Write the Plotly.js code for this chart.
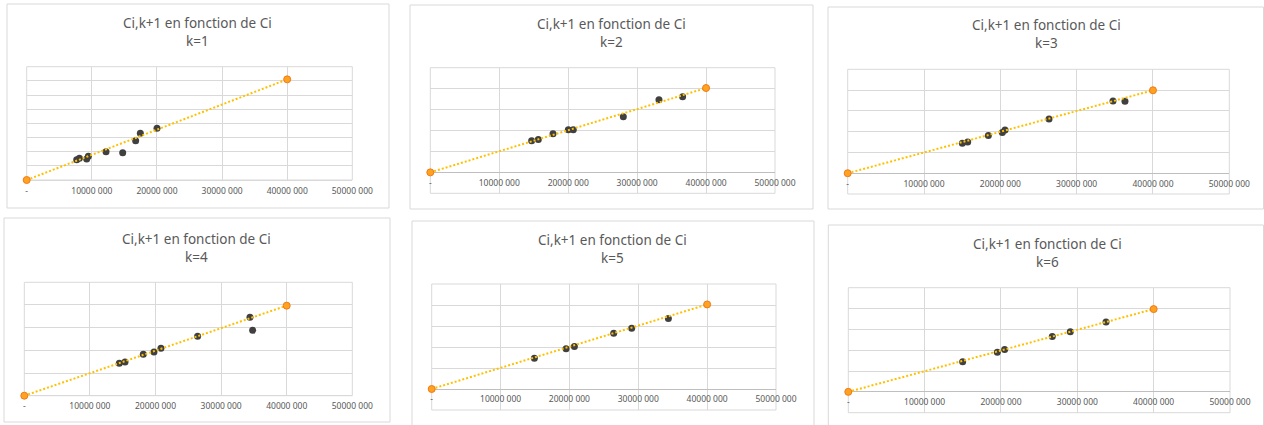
<!DOCTYPE html>
<html>
<head>
<meta charset="utf-8">
<script src="https://cdn.plot.ly/plotly-3.0.1.min.js"></script>
<style>html,body{margin:0;padding:0;background:#fff;}#chart{width:1264px;height:425px;}</style>
</head>
<body>
<div id="chart"></div>
<script>
// ---- data ----
const xTickVals = [0, 10000000, 20000000, 30000000, 40000000, 50000000];
const xTickText = ['-', '10000 000', '20000 000', '30000 000', '40000 000', '50000 000'];
const chartTitle = 'Ci,k+1 en fonction de Ci';
const kLabels = ['k=1', 'k=2', 'k=3', 'k=4', 'k=5', 'k=6'];

const ci_k1    = [7680000, 8090000, 9210000, 9470000, 12180000, 14740000, 16730000, 17450000, 20010000];
const cnext_k1 = [7180000, 7650000, 7410000, 8350000, 10000000, 9650000, 13880000, 16470000, 18240000];
const ci_k2    = [14700000, 15670000, 17800000, 20020000, 20740000, 28000000, 33170000, 36600000];
const cnext_k2 = [15130000, 15760000, 18470000, 20380000, 20380000, 26590000, 34710000, 36150000];
const ci_k3    = [15020000, 15720000, 18430000, 20260000, 20610000, 26380000, 34760000, 36330000];
const cnext_k3 = [14420000, 15060000, 18110000, 19550000, 20830000, 26120000, 34780000, 34620000];
const ci_k4    = [14480000, 15350000, 18140000, 19770000, 20830000, 26420000, 34400000, 34810000];
const cnext_k4 = [14260000, 14850000, 18240000, 19260000, 20880000, 26180000, 34560000, 28820000];
const ci_k5    = [14910000, 19510000, 20720000, 26430000, 29040000, 34370000];
const cnext_k5 = [14700000, 19170000, 20290000, 26520000, 28910000, 33550000];
const ci_k6    = [14980000, 19520000, 20480000, 26720000, 29080000, 33760000];
const cnext_k6 = [14420000, 19070000, 20350000, 26600000, 28850000, 33490000];

const fitX = [0, 40000000];
const fitY_k1 = [0, 35530000];
const fitY_k2 = [0, 40290000];
const fitY_k3 = [0, 39900000];
const fitY_k4 = [0, 39700000];
const fitY_k5 = [0, 40260000];
const fitY_k6 = [0, 39740000];

const series = [
  {x: ci_k1, y: cnext_k1, fy: fitY_k1},
  {x: ci_k2, y: cnext_k2, fy: fitY_k2},
  {x: ci_k3, y: cnext_k3, fy: fitY_k3},
  {x: ci_k4, y: cnext_k4, fy: fitY_k4},
  {x: ci_k5, y: cnext_k5, fy: fitY_k5},
  {x: ci_k6, y: cnext_k6, fy: fitY_k6}
];

// ---- layout (pixel geometry of each panel) ----
const W = 1264, H = 425;
const panels = [
  {box:[7,4,389,208],      plot:[26.7,66.7,352.3,180],   yr:[0,40000000],         dt:5000000,  neg:false, zero:180,   tx:197.5,  ty:32.5},
  {box:[410,5,813,209],    plot:[430.3,67.7,775,193.3],  yr:[-10000000,50000000], dt:10000000, neg:true,  zero:172.3, tx:611.7,  ty:33.3},
  {box:[828,7,1263.5,209], plot:[847.7,69.3,1229.3,194], yr:[-10000000,50000000], dt:10000000, neg:true,  zero:173.3, tx:1046.7, ty:34.2},
  {box:[4,218,390,422],    plot:[24.3,282.3,352.3,395.7],yr:[0,50000000],         dt:10000000, neg:false, zero:395.7, tx:196.7,  ty:247.5},
  {box:[412,221,814,440],  plot:[431.7,284,776,410],     yr:[-10000000,50000000], dt:10000000, neg:true,  zero:388.3, tx:612.3,  ty:249.2},
  {box:[828.3,225,1263.5,440], plot:[848.3,287.7,1230,412.7], yr:[-10000000,50000000], dt:10000000, neg:true, zero:391.7, tx:1047.7, ty:253.3}
];
const px = v => v / W;
const py = v => 1 - v / H;

const FONT = 'Noto Sans, Open Sans, sans-serif';
const traces = [];
const layout = {
  width: W, height: H,
  margin: {l:0, r:0, t:0, b:0},
  paper_bgcolor: '#ffffff', plot_bgcolor: 'rgba(0,0,0,0)',
  showlegend: false,
  shapes: [], annotations: []
};

panels.forEach((p, i) => {
  const n = i + 1;
  const xa = 'x' + (n === 1 ? '' : n), ya = 'y' + (n === 1 ? '' : n);
  const xk = 'xaxis' + (n === 1 ? '' : n), yk = 'yaxis' + (n === 1 ? '' : n);
  const s = series[i];
  traces.push({
    type: 'scatter', mode: 'markers', x: s.x, y: s.y, xaxis: xa, yaxis: ya, cliponaxis: false,
    marker: {size: 7, color: '#404040', line: {width: 0}}, hoverinfo: 'x+y'
  });
  traces.push({
    type: 'scatter', mode: 'lines+markers', x: fitX, y: s.fy, xaxis: xa, yaxis: ya, cliponaxis: false,
    line: {color: '#FFC000', width: 2, dash: '2px,2px'},
    marker: {size: 7, color: '#FFA21F', line: {color: '#F07A1A', width: 1}}, hoverinfo: 'x+y'
  });
  const xaxis = {
    domain: [px(p.plot[0]), px(p.plot[2])],
    range: [0, 50000000], fixedrange: true,
    tickvals: xTickVals, ticktext: xTickText,
    tickfont: {family: FONT, size: 8.5, color: '#595959'},
    showgrid: true, gridcolor: '#d9d9d9', gridwidth: 1,
    zeroline: false, showline: false, ticks: '',
    ticklabelstandoff: 4
  };
  if (p.neg) { xaxis.anchor = 'free'; xaxis.position = py(p.zero); }
  else { xaxis.anchor = ya; }
  layout[xk] = xaxis;
  layout[yk] = {
    domain: [py(p.plot[3]), py(p.plot[1])],
    range: p.yr, dtick: p.dt, tick0: 0, fixedrange: true,
    showticklabels: false, ticks: '',
    showgrid: true, gridcolor: '#d9d9d9', gridwidth: 1,
    zeroline: true, zerolinecolor: p.neg ? '#bfbfbf' : '#d9d9d9', zerolinewidth: 1,
    showline: false, anchor: xa
  };
  // outline of the plot area: gridlines that sit on the range edges
  layout.shapes.push({
    type: 'rect', xref: xa + ' domain', yref: ya + ' domain', layer: 'below',
    x0: 0, x1: 1, y0: 0, y1: 1,
    line: {color: '#d9d9d9', width: 1}, fillcolor: 'rgba(0,0,0,0)'
  });
  // chart frame
  layout.shapes.push({
    type: 'rect', xref: 'paper', yref: 'paper', layer: 'below',
    x0: px(p.box[0]), x1: px(p.box[2]), y0: py(p.box[3]), y1: py(p.box[1]),
    line: {color: '#d9d9d9', width: 1}, fillcolor: 'rgba(0,0,0,0)'
  });
  layout.annotations.push({
    xref: 'paper', yref: 'paper', x: px(p.tx), y: py(p.ty),
    xanchor: 'center', yanchor: 'middle', showarrow: false,
    text: chartTitle + '<br>' + kLabels[i],
    font: {family: FONT, size: 13.5, color: '#595959'}
  });
});

Plotly.newPlot('chart', traces, layout, {staticPlot: true, displayModeBar: false});
</script>
</body>
</html>
